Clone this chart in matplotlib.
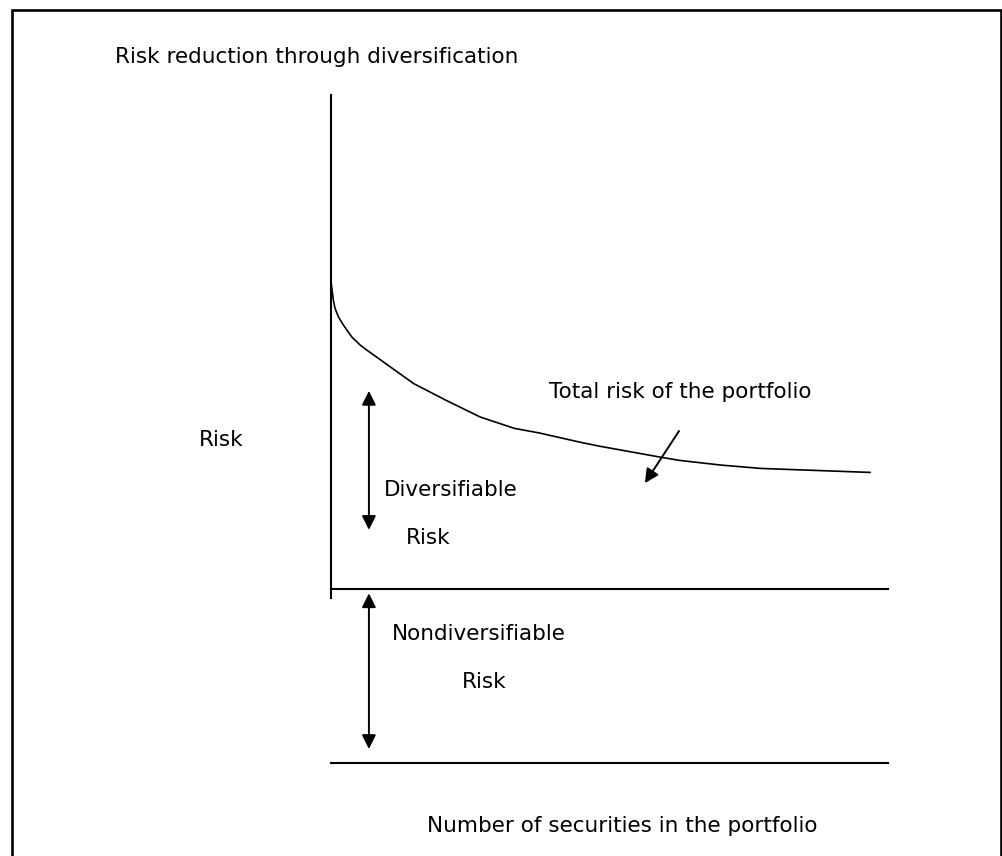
import matplotlib.pyplot as plt
from matplotlib.patches import Rectangle

# total risk curve (x = number of securities, y = risk)
n_securities = [0, 0.06, 0.13, 0.22, 0.41, 0.68, 1.15, 1.61, 2.0, 3.3, 4.6, 6.4, 8.3,
                10.2, 11.6, 13.9, 15.0, 18.3, 19.4, 21.7, 23.9, 30]
total_risk = [72.1, 70.8, 69.3, 68.1, 66.8, 65.6, 63.8, 62.6, 61.8, 59.3, 56.8, 54.3, 51.8,
              50.1, 49.4, 48.0, 47.4, 45.8, 45.3, 44.6, 44.1, 43.5]

market_risk = 26      # nondiversifiable level
zero_risk = 0
x_max = 31
y_max = 100

W, H = 1003, 856
fig = plt.figure(figsize=(W / 100, H / 100), dpi=100)
ax = fig.add_axes([331 / W, 1 - 763 / H, (888 - 331) / W, (763 - 95) / H])
ax.set_xlim(0, x_max)
ax.set_ylim(0, y_max)
ax.axis('off')

# outer frame
fig.patches.append(Rectangle((12.5 / W, -0.05), (1001 - 12.5) / W, 1.05 - 10 / H,
                             transform=fig.transFigure, fill=False, lw=1.9, color='black'))

font = dict(family='DejaVu Sans', fontsize=15.5, color='black')

# axis lines
ax.plot([0, 0], [24.7, y_max], color='black', lw=1.5, clip_on=False)
ax.plot([0, x_max], [market_risk, market_risk], color='black', lw=1.5, clip_on=False)
ax.plot([0, x_max], [zero_risk, zero_risk], color='black', lw=1.5, clip_on=False)

# curve
ax.plot(n_securities, total_risk, color='black', lw=1.2, clip_on=False)

arrow = dict(arrowstyle='<|-|>', color='black', lw=1.4, mutation_scale=21, shrinkA=0, shrinkB=0)
ax.annotate('', xy=(2.11, 55.7), xytext=(2.11, 34.9), arrowprops=arrow, annotation_clip=False)
ax.annotate('', xy=(2.11, 25.4), xytext=(2.11, 2.1), arrowprops=arrow, annotation_clip=False)
ax.annotate('', xy=(17.47, 41.9), xytext=(19.37, 49.7),
            arrowprops=dict(arrowstyle='-|>', color='black', lw=1.4, mutation_scale=21,
                            shrinkA=0, shrinkB=0), annotation_clip=False)

ax.text(-12.0, 105.7, 'Risk reduction through diversification', va='center', ha='left', **font)
ax.text(-7.35, 48.4, 'Risk', va='center', ha='left', **font)
ax.text(12.13, 55.5, 'Total risk of the portfolio', va='center', ha='left', **font)
ax.text(2.95, 40.9, 'Diversifiable', va='center', ha='left', **font)
ax.text(4.17, 33.7, 'Risk', va='center', ha='left', **font)
ax.text(3.39, 19.3, 'Nondiversifiable', va='center', ha='left', **font)
ax.text(7.29, 12.1, 'Risk', va='center', ha='left', **font)
ax.text(5.34, -9.4, 'Number of securities in the portfolio', va='center', ha='left', **font)

fig.savefig('out.png', dpi=100)
